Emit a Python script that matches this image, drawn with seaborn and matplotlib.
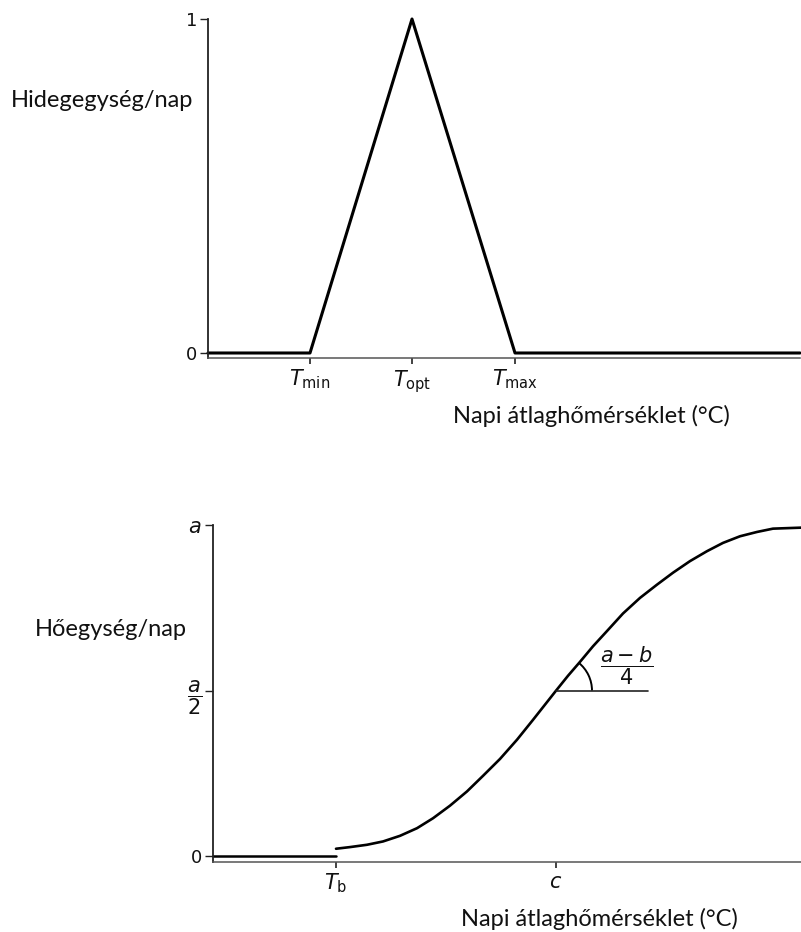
import numpy as np
import matplotlib
matplotlib.use("Agg")
import matplotlib.pyplot as plt
from matplotlib.patches import Arc
from matplotlib.transforms import ScaledTranslation
import seaborn as sns

# Chill unit response (triangular)
chill_x = [0.0, 10.2, 20.4, 30.7, 59.2]
chill_y = [0.0, 0.0, 1.0, 0.0, 0.0]
chill_tick_pos = [10.2, 20.4, 30.7]
chill_tick_lab = [r"$T_{\mathrm{min}}$", r"$T_{\mathrm{opt}}$", r"$T_{\mathrm{max}}$"]
chill_ytick_pos = [0.0, 1.0]
chill_ytick_lab = ["0", "1"]

# Heat unit response (sigmoid above base temperature)
base_x = [0.0, 12.3]
base_y = [0.0, 0.0]
heat_x = [12.3, 13.7, 15.4, 17.0, 18.7, 20.4, 22.0, 23.7, 25.4, 27.0, 28.7, 30.4,
          32.0, 33.7, 34.3, 35.5, 36.7, 38.0, 39.4, 41.0, 42.7, 44.4, 46.0, 47.7,
          49.4, 51.0, 52.7, 54.4, 56.0, 58.8]
heat_y = [0.023, 0.028, 0.035, 0.045, 0.062, 0.085, 0.115, 0.153, 0.196, 0.243,
          0.294, 0.352, 0.412, 0.477, 0.500, 0.545, 0.587, 0.634, 0.680, 0.733,
          0.780, 0.820, 0.856, 0.891, 0.921, 0.946, 0.966, 0.979, 0.989, 0.992]
heat_tick_pos = [12.3, 34.3]
heat_tick_lab = [r"$T_{\mathrm{b}}$", r"$c$"]
heat_ytick_pos = [0.0, 0.5, 1.0]
heat_ytick_lab = ["0", r"$\dfrac{a}{2}$", r"$a$"]
c_value = 34.3

xlabel = "Napi átlaghőmérséklet (°C)"
chill_ylabel = "Hidegegység/nap"
heat_ylabel = "Hőegység/nap"
slope_label = r"$\dfrac{a-b}{4}$"

sns.set_theme(style="white")
plt.rcParams["font.family"] = ["DejaVu Sans"]
plt.rcParams["mathtext.fontset"] = "dejavusans"

W, H = 801, 932
fig = plt.figure(figsize=(W / 100, H / 100), dpi=100)
fig.patch.set_facecolor("white")


def frac_axes(left, top, right, bottom):
    return fig.add_axes([left / W, 1 - bottom / H, (right - left) / W, (bottom - top) / H])


def fx(px):
    return px / W


def fy(py):
    return 1 - py / H


label_font = dict(family="Lato", fontsize=17, color="#111111")


def style_axes(ax, xmax, ymin):
    ax.set_xlim(0, xmax)
    ax.set_ylim(ymin, 1.0)
    for s in ("top", "right"):
        ax.spines[s].set_visible(False)
    ax.spines["left"].set_color("#222222")
    ax.spines["left"].set_linewidth(1.3)
    ax.spines["bottom"].set_color("#555555")
    ax.spines["bottom"].set_linewidth(1.1)
    ax.tick_params(axis="y", direction="out", length=6, width=1.0, color="#222222",
                   pad=2, labelsize=13, labelcolor="#111111", left=True)
    ax.tick_params(axis="x", direction="out", length=4, width=1.2, color="#222222",
                   pad=3, labelsize=15, labelcolor="#111111", bottom=True)
    ax.set_xlabel("")
    ax.set_ylabel("")
    ax.patch.set_alpha(0)


# ---- top panel ----
ax1 = frac_axes(208, 19, 800, 358)
sns.lineplot(x=chill_x, y=chill_y, ax=ax1, color="black", linewidth=2.2, sort=False,
             clip_on=False)
style_axes(ax1, 59.2, -0.015)
ax1.set_xticks(chill_tick_pos, chill_tick_lab)
ax1.set_yticks(chill_ytick_pos, chill_ytick_lab)
fig.text(fx(193), fy(107), chill_ylabel, ha="right", va="baseline", **label_font)
fig.text(fx(453), fy(423), xlabel, ha="left", va="baseline", **label_font)

# ---- bottom panel ----
ax2 = frac_axes(213, 525, 801, 862)
sns.lineplot(x=base_x, y=base_y, ax=ax2, color="black", linewidth=1.8, sort=False,
             clip_on=False)
sns.lineplot(x=heat_x, y=heat_y, ax=ax2, color="black", linewidth=1.9, sort=False,
             clip_on=False)
style_axes(ax2, 58.8, -0.017)
ax2.set_xticks(heat_tick_pos, heat_tick_lab)
ax2.set_yticks(heat_ytick_pos, heat_ytick_lab)
for lab in ax2.get_yticklabels():
    if lab.get_text() != "0":
        lab.set_fontsize(15)
fig.text(fx(187), fy(636), heat_ylabel, ha="right", va="baseline", **label_font)
fig.text(fx(461), fy(926), xlabel, ha="left", va="baseline", **label_font)

# slope marker at the inflection point c
ci = heat_x.index(c_value)
cx, cy = heat_x[ci], heat_y[ci]
ax2.plot([cx, cx + 9.2], [cy, cy], color="#222222", linewidth=1.2)
p0 = ax2.transData.transform((cx, cy))
p1 = ax2.transData.transform((heat_x[ci + 1], heat_y[ci + 1]))
ang = np.degrees(np.arctan2(p1[1] - p0[1], p1[0] - p0[0]))
r_in = 36 / 100  # radius in inches
arc = Arc((0, 0), 2 * r_in, 2 * r_in, theta1=0, theta2=ang, color="black", linewidth=1.4,
          transform=fig.dpi_scale_trans + ScaledTranslation(cx, cy, ax2.transData))
ax2.add_patch(arc)
fig.text(fx(627), fy(666), slope_label, ha="center", va="center", fontsize=15,
         color="#111111")

fig.savefig("out.png", dpi=100, facecolor="white")
